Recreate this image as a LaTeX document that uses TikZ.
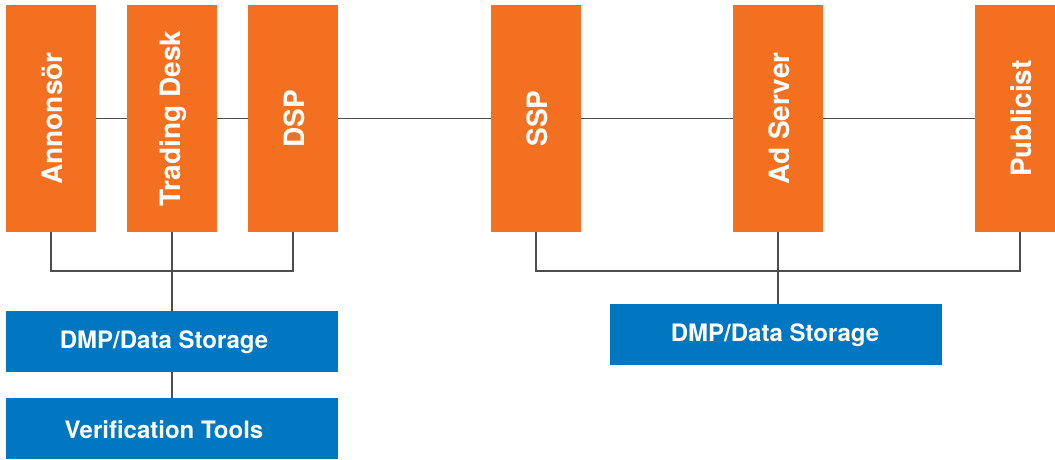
\documentclass[tikz,border=0pt]{standalone}
\usepackage{fontspec}
\setmainfont{TeX Gyre Heros}
\definecolor{orng}{HTML}{F37021}
\definecolor{blu}{HTML}{0077C0}
\definecolor{ln}{HTML}{4D4D4D}
\begin{document}
\begin{tikzpicture}[x=1pt,y=-1pt,
  vbox/.style={fill=orng, minimum width=90pt, minimum height=227pt, inner sep=0pt},
  vtxt/.style={text=white, font=\fontsize{28}{30}\selectfont\bfseries, rotate=90},
  hbox/.style={fill=blu, minimum width=332pt, minimum height=61pt, inner sep=0pt},
  htxt/.style={text=white, font=\fontsize{24}{26}\selectfont\bfseries},
  conn/.style={draw=ln, line width=1.3pt}]
\useasboundingbox (0,0) rectangle (1055,459);
\clip (0,0) rectangle (1055,459);
% top row
\node[vbox] (an) at (51,118.5) {};
\node[vbox] (td) at (172,118.5) {};
\node[vbox] (dsp) at (293,118.5) {};
\node[vbox] (ssp) at (536,118.5) {};
\node[vbox] (ad) at (778,118.5) {};
\node[vbox] (pub) at (1020,118.5) {};
\node[vtxt] (anT) at ([xshift=1pt]an.center) {Annonsör};
\node[vtxt] (tdT) at ([xshift=1pt]td.center) {Trading Desk};
\node[vtxt] (dspT) at ([xshift=1pt]dsp.center) {DSP};
\node[vtxt] (sspT) at ([xshift=1pt]ssp.center) {SSP};
\node[vtxt] (adT) at ([xshift=1pt]ad.center) {Ad Server};
\node[vtxt] (pubT) at ([xshift=1pt]pub.center) {Publicist};
% bottom boxes
\node[hbox] (dmpL) at (172,341.5) {};
\node[hbox] (ver) at (172,428.5) {};
\node[hbox] (dmpR) at (776,334.3) {};
\node[htxt] (dmpLT) at ([xshift=-8pt,yshift=-1pt]dmpL.center) {DMP/Data Storage};
\node[htxt] (verT) at ([xshift=-8pt,yshift=-1pt]ver.center) {Verification Tools};
\node[htxt] (dmpRT) at ([xshift=-1pt,yshift=-1pt]dmpR.center) {DMP/Data Storage};
% connectors
\coordinate (jl) at (172,271);
\coordinate (jr) at (778,271);
\draw[conn] (an.east) -- (td.west);
\draw[conn] (td.east) -- (dsp.west);
\draw[conn] (dsp.east) -- (ssp.west);
\draw[conn] (ssp.east) -- (ad.west);
\draw[conn] (ad.east) -- (pub.west);
\draw[conn] (an.south) |- (jl) -| (dsp.south);
\draw[conn] (td.south) -- (dmpL.north);
\draw[conn] (dmpL.south) -- (ver.north);
\draw[conn] (ssp.south) |- (jr) -| (pub.south);
\draw[conn] (ad.south) -- (ad.south |- dmpR.north);
\end{tikzpicture}
\end{document}
